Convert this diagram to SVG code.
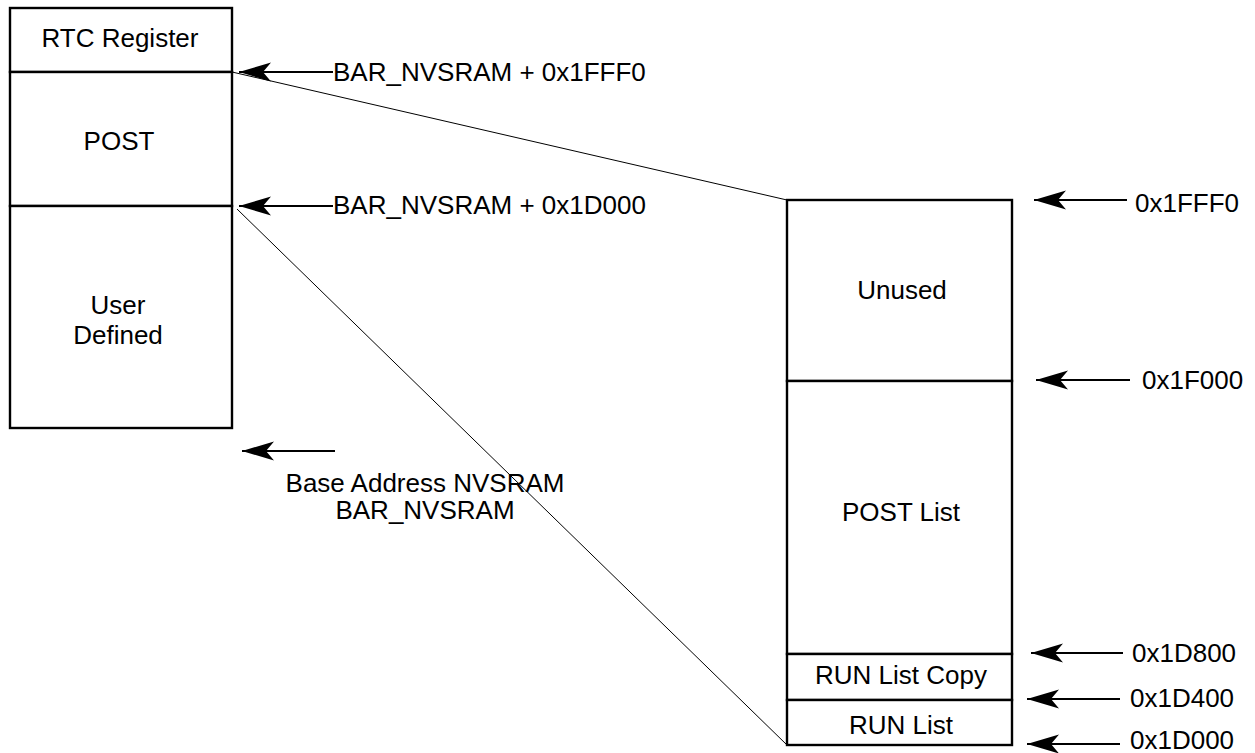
<svg xmlns="http://www.w3.org/2000/svg" width="1255" height="753" viewBox="0 0 1255 753">
  <style>
    .box { fill: #ffffff; stroke: #000000; stroke-width: 2.4; }
    .lbl { font-family: "Liberation Sans", Arial, sans-serif; font-size: 26px; fill: #000000; }
    .mid { text-anchor: middle; }
    .ptr { stroke: #000000; stroke-width: 2.2; fill: none; marker-end: url(#head); }
    .map { stroke: #000000; stroke-width: 1; fill: none; }
  </style>
  <defs>
    <marker id="head" viewBox="0 0 32 20" refX="32" refY="10" markerWidth="32" markerHeight="20" markerUnits="userSpaceOnUse" orient="auto">
      <path d="M32,10 L0,0.5 L8,10 L0,19.5 Z" fill="#000000"/>
    </marker>
  </defs>
  <rect width="1255" height="753" fill="#ffffff"/>

  <!-- NVSRAM overview (left stack) -->
  <g id="rtc-register">
    <rect class="box" x="10" y="8" width="222" height="64"/>
    <text class="lbl mid" x="120" y="47">RTC Register</text>
  </g>
  <g id="post">
    <rect class="box" x="10" y="72" width="222" height="134"/>
    <text class="lbl mid" x="119" y="150">POST</text>
  </g>
  <g id="user-defined">
    <rect class="box" x="10" y="206" width="222" height="222"/>
    <text class="lbl mid" x="118" y="314">User</text>
    <text class="lbl mid" x="118" y="344">Defined</text>
  </g>

  <!-- POST region detail (right stack) -->
  <g id="unused">
    <rect class="box" x="787" y="200" width="225" height="181"/>
    <text class="lbl mid" x="902" y="299">Unused</text>
  </g>
  <g id="post-list">
    <rect class="box" x="787" y="381" width="225" height="273"/>
    <text class="lbl mid" x="901" y="521">POST List</text>
  </g>
  <g id="run-list-copy">
    <rect class="box" x="787" y="654" width="225" height="46"/>
    <text class="lbl mid" x="901" y="684">RUN List Copy</text>
  </g>
  <g id="run-list">
    <rect class="box" x="787" y="700" width="225" height="45"/>
    <text class="lbl mid" x="901" y="734">RUN List</text>
  </g>

  <!-- address labels -->
  <g id="address-labels">
    <text class="lbl" x="333" y="81">BAR_NVSRAM + 0x1FFF0</text>
    <text class="lbl" x="333" y="214">BAR_NVSRAM + 0x1D000</text>
    <text class="lbl mid" x="425" y="492">Base Address NVSRAM</text>
    <text class="lbl mid" x="425" y="519">BAR_NVSRAM</text>
    <text class="lbl" x="1135" y="212">0x1FFF0</text>
    <text class="lbl" x="1142" y="389">0x1F000</text>
    <text class="lbl" x="1132" y="662">0x1D800</text>
    <text class="lbl" x="1130" y="707">0x1D400</text>
    <text class="lbl" x="1130" y="749">0x1D000</text>
  </g>

  <!-- connectors: address pointers and zoom lines -->
  <g id="connectors">
    <line class="map" x1="232" y1="72" x2="787" y2="200"/>
    <line class="map" x1="237" y1="209" x2="787" y2="745"/>

    <line class="ptr" x1="333" y1="72" x2="239" y2="72"/>
    <line class="ptr" x1="333" y1="206" x2="239" y2="206"/>
    <line class="ptr" x1="335" y1="451" x2="242" y2="451"/>

    <line class="ptr" x1="1127" y1="200" x2="1034" y2="200"/>
    <line class="ptr" x1="1130" y1="380" x2="1036" y2="380"/>
    <line class="ptr" x1="1123" y1="653" x2="1031" y2="653"/>
    <line class="ptr" x1="1120" y1="699" x2="1027" y2="699"/>
    <line class="ptr" x1="1120" y1="744" x2="1027" y2="744"/>
  </g>
</svg>
